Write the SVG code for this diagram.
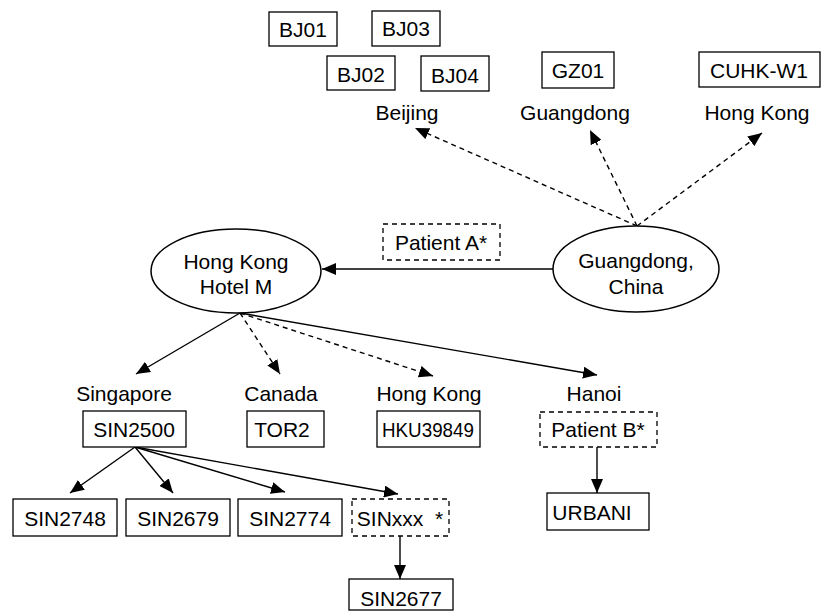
<svg xmlns="http://www.w3.org/2000/svg" width="822" height="611" viewBox="0 0 822 611">
<style>
text{font-family:"Liberation Sans",Arial,sans-serif;font-size:21px;fill:#000;text-anchor:middle}
.box{fill:#fff;stroke:#000;stroke-width:1.3}
.dbox{fill:#fff;stroke:#000;stroke-width:1.3;stroke-dasharray:5 4}
.ell{fill:#fff;stroke:#000;stroke-width:1.5}
.c{fill:none;stroke:#000;stroke-width:1.4;marker-end:url(#ah)}
.d{stroke-dasharray:5 4}
</style>
<defs>
<marker id="ah" markerUnits="userSpaceOnUse" markerWidth="14" markerHeight="12" refX="14" refY="6" orient="auto">
<path d="M0,0 L14,6 L0,12 z" fill="#000"/>
</marker>
</defs>
<rect width="822" height="611" fill="#fff"/>
<g id="connectors">
<line class="c d" x1="637" y1="226" x2="415" y2="128"/>
<line class="c d" x1="637" y1="226" x2="590" y2="130"/>
<line class="c d" x1="637" y1="226" x2="762" y2="133"/>
<line class="c" x1="553" y1="269" x2="322" y2="269"/>
<line class="c" x1="240" y1="313" x2="136" y2="374"/>
<line class="c d" x1="240" y1="313" x2="280" y2="374"/>
<line class="c d" x1="240" y1="313" x2="433" y2="376"/>
<line class="c" x1="240" y1="313" x2="597" y2="375"/>
<line class="c" x1="135" y1="447" x2="70" y2="493"/>
<line class="c" x1="135" y1="447" x2="173" y2="493"/>
<line class="c" x1="135" y1="447" x2="285" y2="492"/>
<line class="c" x1="135" y1="447" x2="398" y2="494"/>
<line class="c" x1="400" y1="536" x2="400" y2="579"/>
<line class="c" x1="597" y1="447" x2="597" y2="493"/>
</g>
<g id="bj01"><rect class="box" x="269" y="12" width="68" height="34"/><text x="303" y="37">BJ01</text></g>
<g id="bj03"><rect class="box" x="372" y="11" width="68" height="35"/><text x="406" y="36">BJ03</text></g>
<g id="bj02"><rect class="box" x="327" y="56" width="68" height="34"/><text x="361" y="82">BJ02</text></g>
<g id="bj04"><rect class="box" x="421" y="56" width="68" height="35"/><text x="455" y="83">BJ04</text></g>
<g id="beijing"><text x="407" y="120">Beijing</text></g>
<g id="gz01"><rect class="box" x="542" y="52" width="72" height="36"/><text x="578" y="78">GZ01</text></g>
<g id="guangdong"><text x="575" y="120">Guangdong</text></g>
<g id="cuhk"><rect class="box" x="699" y="52" width="121" height="35"/><text x="759" y="78">CUHK-W1</text></g>
<g id="hongkong-top"><text x="757" y="120">Hong Kong</text></g>
<g id="guangdong-china"><ellipse class="ell" cx="636" cy="269" rx="83" ry="43"/><text x="636" y="268">Guangdong,</text><text x="636" y="294">China</text></g>
<g id="hotel-m"><ellipse class="ell" cx="236" cy="271" rx="85" ry="42"/><text x="236" y="269">Hong Kong</text><text x="236" y="294">Hotel M</text></g>
<g id="patient-a"><rect class="dbox" x="383" y="224" width="117" height="36"/><text x="441" y="250">Patient A*</text></g>
<g id="singapore"><text x="124" y="401">Singapore</text></g>
<g id="canada"><text x="281" y="401">Canada</text></g>
<g id="hongkong-mid"><text x="429" y="401">Hong Kong</text></g>
<g id="hanoi"><text x="594" y="401">Hanoi</text></g>
<g id="sin2500"><rect class="box" x="83" y="411" width="103" height="36"/><text x="134" y="437">SIN2500</text></g>
<g id="tor2"><rect class="box" x="247" y="411" width="77" height="36"/><text x="282" y="437">TOR2</text></g>
<g id="hku39849"><rect class="box" x="377" y="411" width="103" height="36"/><text x="428" y="437" textLength="92" lengthAdjust="spacingAndGlyphs">HKU39849</text></g>
<g id="patient-b"><rect class="dbox" x="540" y="412" width="117" height="35"/><text x="598" y="437">Patient B*</text></g>
<g id="urbani"><rect class="box" x="547" y="493" width="102" height="37"/><text x="592" y="520">URBANI</text></g>
<g id="sin2748"><rect class="box" x="13" y="499" width="104" height="37"/><text x="65" y="526">SIN2748</text></g>
<g id="sin2679"><rect class="box" x="126" y="499" width="104" height="37"/><text x="178" y="526">SIN2679</text></g>
<g id="sin2774"><rect class="box" x="238" y="499" width="104" height="37"/><text x="290" y="526">SIN2774</text></g>
<g id="sinxxx"><rect class="dbox" x="352" y="499" width="97" height="37"/><text x="400" y="526" xml:space="preserve">SINxxx  *</text></g>
<g id="sin2677"><rect class="box" x="349" y="579" width="104" height="31"/><text x="401" y="606">SIN2677</text></g>
</svg>
